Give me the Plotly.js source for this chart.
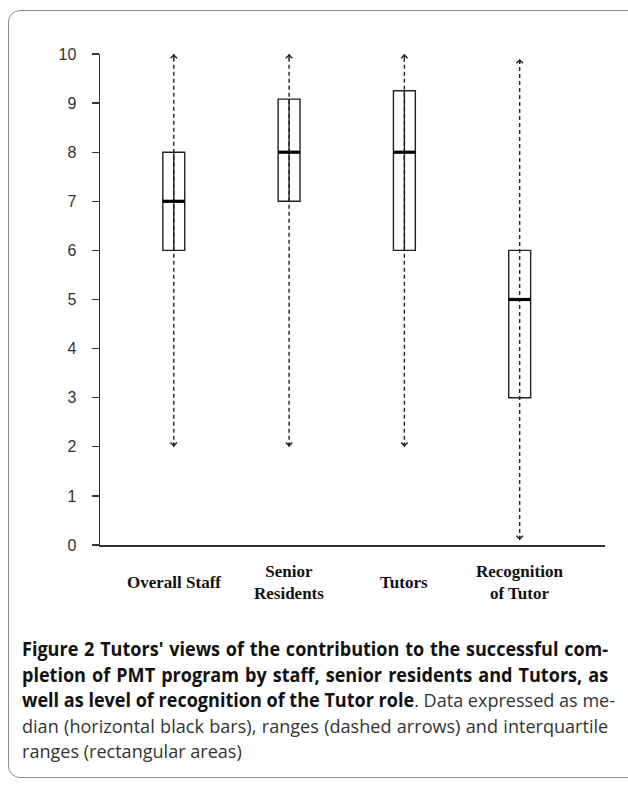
<!DOCTYPE html>
<html>
<head>
<meta charset="utf-8">
<script src="https://cdn.plot.ly/plotly-3.0.1.min.js"></script>
<style>
html,body{margin:0;padding:0;width:628px;height:785px;overflow:hidden;background:#fff;}
#chart{position:absolute;left:0;top:0;width:628px;height:785px;}
#frame{position:absolute;left:8px;top:10px;width:640px;height:766px;border:1px solid #8c8c8c;border-radius:12px;pointer-events:none;z-index:5;}
#caption{position:absolute;left:22px;top:637px;width:617px;transform:scaleX(0.95);transform-origin:0 0;font-family:"Open Sans",sans-serif;font-size:19px;line-height:25.5px;color:#111;z-index:6;}
.ln{white-space:nowrap;text-align:justify;text-align-last:justify;}
.ln.last{text-align-last:left;text-align:left;}
.b{font-weight:700;color:#111;}
.r{font-weight:400;color:#333;}
</style>
</head>
<body>
<div id="chart"></div>
<div id="frame"></div>
<div id="caption">
  <div class="ln"><span class="b">Figure 2 Tutors' views of the contribution to the successful com-</span></div>
  <div class="ln"><span class="b">pletion of PMT program by staff, senior residents and Tutors, as</span></div>
  <div class="ln"><span class="b">well as level of recognition of the Tutor role</span><span class="r">. Data expressed as me-</span></div>
  <div class="ln"><span class="r">dian (horizontal black bars), ranges (dashed arrows) and interquartile</span></div>
  <div class="ln last"><span class="r">ranges (rectangular areas)</span></div>
</div>
<script>
// ---- data ----
const categories = ['Overall Staff', 'Senior Residents', 'Tutors', 'Recognition of Tutor'];
const categoryLabels = ['Overall Staff', 'Senior<br>Residents', 'Tutors', 'Recognition<br>of Tutor'];
const rangeMin = [2, 2, 2, 0.1];
const q1 = [6, 7, 6, 3];
const median = [7, 8, 8, 5];
const q3 = [8, 9.08, 9.25, 6];
const rangeMax = [10, 10, 10, 9.9];
const yTickVals = [0, 1, 2, 3, 4, 5, 6, 7, 8, 9, 10];

// ---- styles ----
const innerSolid = [true, true, true, false];
const ink = '#222';
const boxHalf = 0.095;
const headLen = 0.12;

const idx = categories.map((c, i) => i);
const traces = [];

// dashed range lines
idx.forEach(i => {
  traces.push({
    type: 'scatter', mode: 'lines', x: [i, i], y: [rangeMin[i], rangeMax[i]],
    line: {color: ink, width: 1.4, dash: '4px,3px'}, hoverinfo: 'skip', cliponaxis: false
  });
});

// solid inner line inside box
idx.filter(i => innerSolid[i]).forEach(i => {
  traces.push({
    type: 'scatter', mode: 'lines', x: [i, i], y: [q1[i], q3[i]],
    line: {color: ink, width: 1.4}, hoverinfo: 'skip'
  });
});

// IQR boxes
traces.push({
  type: 'box', x: idx, q1: q1, median: median, q3: q3,
  lowerfence: q1, upperfence: q3, width: boxHalf * 2,
  fillcolor: 'rgba(0,0,0,0)', line: {color: ink, width: 1.4},
  whiskerwidth: 0, boxpoints: false, hoverinfo: 'skip'
});

// thick medians
const mx = [], my = [];
idx.forEach(i => { mx.push(i - boxHalf, i + boxHalf, null); my.push(median[i], median[i], null); });
traces.push({type: 'scatter', mode: 'lines', x: mx, y: my, line: {color: '#000', width: 3.2}, hoverinfo: 'skip'});

// arrowheads + category labels
const annotations = [];
idx.forEach(i => {
  annotations.push({x: i, y: rangeMax[i], ax: i, ay: rangeMax[i] - headLen, xref: 'x', yref: 'y', axref: 'x', ayref: 'y',
    text: '', showarrow: true, arrowhead: 4, arrowsize: 0.9, arrowwidth: 1.4, arrowcolor: ink});
  annotations.push({x: i, y: rangeMin[i], ax: i, ay: rangeMin[i] + headLen, xref: 'x', yref: 'y', axref: 'x', ayref: 'y',
    text: '', showarrow: true, arrowhead: 4, arrowsize: 0.9, arrowwidth: 1.4, arrowcolor: ink});
  annotations.push({x: i, y: -0.077, xref: 'x', yref: 'paper', yanchor: 'middle', xanchor: 'center',
    text: '<b>' + categoryLabels[i] + '</b>', showarrow: false,
    font: {family: '"Liberation Serif", "Times New Roman", serif', size: 17, color: '#111'}});
});

const layout = {
  width: 628, height: 785,
  margin: {l: 100, r: 23, t: 54, b: 240},
  paper_bgcolor: '#fff', plot_bgcolor: '#fff',
  showlegend: false,
  xaxis: {range: [-0.64, 3.74], showline: true, linecolor: '#333', linewidth: 1.5,
    showticklabels: false, ticks: '', showgrid: false, zeroline: false, fixedrange: true},
  yaxis: {range: [0, 10], tickvals: yTickVals, ticktext: yTickVals.map(String), ticks: 'outside', ticklen: 7,
    tickwidth: 1.4, tickcolor: '#333', showline: true, linecolor: '#333', linewidth: 1.5,
    showgrid: false, zeroline: false, ticklabelstandoff: 12, fixedrange: true,
    tickfont: {family: '"Liberation Sans", Arial, sans-serif', size: 16, color: '#333'}},
  annotations: annotations
};

Plotly.newPlot('chart', traces, layout, {displayModeBar: false, staticPlot: true});
</script>
</body>
</html>
